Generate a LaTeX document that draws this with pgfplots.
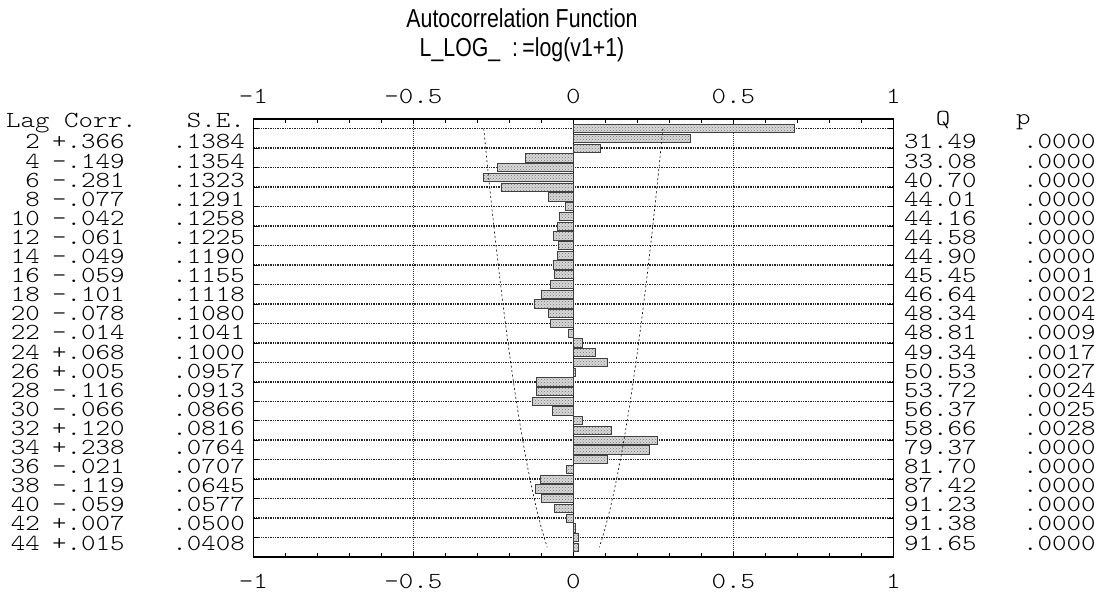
\documentclass[border=0pt]{standalone}
\usepackage{fontspec}
\usepackage{pgfplots}
\usepackage{pgfplotstable}
\pgfplotsset{compat=1.18}
\usetikzlibrary{patterns}
\setmainfont{Liberation Sans}
\newfontfamily\monof[FakeStretch=1.2]{Latin Modern Mono Light}
\newfontfamily\narrowf[FakeStretch=0.82]{Liberation Sans}
\newcommand\mono{\monof\fontsize{23}{23}\selectfont}

% autocorrelation by lag (odd lags)
\pgfplotstableread{
lag r
1 0.690
2 0.366
3 0.085
4 -0.149
5 -0.236
6 -0.281
7 -0.226
8 -0.077
9 -0.024
10 -0.042
11 -0.050
12 -0.061
13 -0.046
14 -0.049
15 -0.062
16 -0.059
17 -0.071
18 -0.101
19 -0.122
20 -0.078
21 -0.071
22 -0.014
23 0.027
24 0.068
25 0.106
26 0.005
27 -0.116
28 -0.116
29 -0.127
30 -0.066
31 0.029
32 0.120
33 0.262
34 0.238
35 0.106
36 -0.021
37 -0.103
38 -0.119
39 -0.100
40 -0.059
41 -0.021
42 0.007
43 0.016
44 0.015
}\acf

% standard errors
\pgfplotstableread{
lag se
1 .1399
2 .1384
4 .1354
6 .1323
8 .1291
10 .1258
12 .1225
14 .1190
16 .1155
18 .1118
20 .1080
22 .1041
24 .1000
26 .0957
28 .0913
30 .0866
32 .0816
34 .0764
36 .0707
38 .0645
40 .0577
42 .0500
44 .0408
}\setab

\begin{document}
\begin{tikzpicture}[x=1pt,y=1pt]
\path[use as bounding box] (0,0) rectangle (1103,594);

\begin{axis}[
  at={(253.3pt,37pt)}, anchor=south west,
  scale only axis, width=640pt, height=438pt,
  xmin=-1, xmax=1, ymin=0, ymax=45, y dir=reverse,
  xtick={-1,-0.5,0,0.5,1}, xticklabels={},
  minor x tick num=4,
  ytick={1,3,...,43}, yticklabels={},
  tick align=inside, major tick length=5pt, minor tick length=4pt,
  tick style={black, line width=0.6pt},
  xmajorgrids, ymajorgrids,
  major x grid style={black!80, line width=1.4pt, dash pattern=on 1pt off 1pt},
  major y grid style={black!85, line width=1.5pt, dash pattern=on 1.5pt off 0.9pt},
  axis line style={black, line width=1.2pt},
]
\addplot[black, line width=0.8pt] coordinates {(0,0) (0,45)};
\addplot[xbar, bar width=8.3pt, draw=black!75, line width=0.8pt,
  fill=black!15, postaction={pattern=crosshatch dots, pattern color=black!55}]
  table[x=r, y=lag] {\acf};
\addplot[no marks, black, line width=0.6pt, dash pattern=on 2pt off 2.5pt]
  table[x expr=2*\thisrow{se}, y=lag] {\setab};
\addplot[no marks, black, line width=0.6pt, dash pattern=on 2pt off 2.5pt]
  table[x expr=-2*\thisrow{se}, y=lag] {\setab};
\end{axis}

% titles
\node[font=\narrowf\fontsize{26}{26}\selectfont] at (522,576) {Autocorrelation Function};
\node[font=\narrowf\fontsize{26}{26}\selectfont] at (522,544) {L\_LOG\_\ \ :\,=log(v1+1)};

% tick labels top and bottom
\foreach \v/\t in {-1/-1,-0.5/-0.5,0/0,0.5/0.5,1/1} {
  \node[anchor=base, font=\mono, inner sep=0pt] at ({573.3+320*\v},490) {\t};
  \node[anchor=base, font=\mono, inner sep=0pt] at ({573.3+320*\v},5) {\t};
}

% column headers
\begin{scope}[every node/.style={font=\mono, inner sep=0pt}]
\node[anchor=base west] at (6,466) {Lag Corr.};
\node[anchor=base east] at (245,466) {S.E.};
\node[anchor=base] at (943,468) {Q};
\node[anchor=base west] at (1016,469) {p};

% table rows
\foreach \lag/\r/\se/\q/\p [count=\k] in {
  2/+.366/.1384/31.49/.0000, 4/-.149/.1354/33.08/.0000,
  6/-.281/.1323/40.70/.0000, 8/-.077/.1291/44.01/.0000,
  10/-.042/.1258/44.16/.0000, 12/-.061/.1225/44.58/.0000,
  14/-.049/.1190/44.90/.0000, 16/-.059/.1155/45.45/.0001,
  18/-.101/.1118/46.64/.0002, 20/-.078/.1080/48.34/.0004,
  22/-.014/.1041/48.81/.0009, 24/+.068/.1000/49.34/.0017,
  26/+.005/.0957/50.53/.0027, 28/-.116/.0913/53.72/.0024,
  30/-.066/.0866/56.37/.0025, 32/+.120/.0816/58.66/.0028,
  34/+.238/.0764/79.37/.0000, 36/-.021/.0707/81.70/.0000,
  38/-.119/.0645/87.42/.0000, 40/-.059/.0577/91.23/.0000,
  42/+.007/.0500/91.38/.0000, 44/+.015/.0408/91.65/.0000} {
  \pgfmathsetmacro\yy{594-(149+(\k-1)*19.1)}
  \node[anchor=base east] at (40,\yy) {\lag};
  \node[anchor=base west] at (52,\yy) {\r};
  \node[anchor=base east] at (245,\yy) {\se};
  \node[anchor=base west] at (904,\yy) {\q};
  \node[anchor=base west] at (1023,\yy) {\p};
}
\end{scope}
\end{tikzpicture}
\end{document}
